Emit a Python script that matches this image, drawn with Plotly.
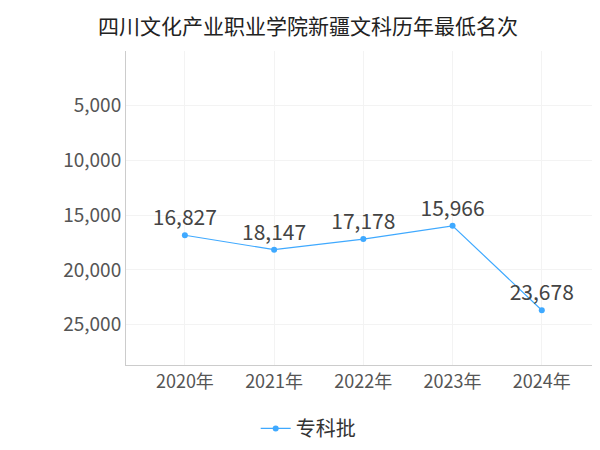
import plotly.graph_objects as go

years = ['2020年', '2021年', '2022年', '2023年', '2024年']
ranks = [16827, 18147, 17178, 15966, 23678]
labels = [f'{v:,}' for v in ranks]

fig = go.Figure()
fig.add_trace(go.Scatter(
    x=list(range(len(years))),
    y=ranks,
    mode='lines+markers+text',
    name='专科批',
    text=labels,
    textposition='top center',
    textfont=dict(size=21, color='#444'),
    line=dict(color='#3fa9ff', width=1.2),
    marker=dict(size=6, color='#3fa9ff'),
))

fig.update_layout(
    width=600, height=450,
    title=dict(text='四川文化产业职业学院新疆文科历年最低名次', x=0.5, y=0.975,
               font=dict(size=21, color='#222')),
    font=dict(family='Noto Sans CJK SC, Noto Sans, sans-serif'),
    plot_bgcolor='white', paper_bgcolor='white',
    margin=dict(l=118, r=10, t=43, b=80),
    showlegend=True,
    legend=dict(orientation='h', x=0.386, xanchor='center', y=-0.14, yanchor='top',
                font=dict(size=20, color='#333')),
    xaxis=dict(tickmode='array', tickvals=list(range(len(years))), ticktext=years,
               range=[-0.66, 4.63], showgrid=True, gridcolor='#f3f3f3',
               showline=True, linecolor='#ccc', ticks='', zeroline=False,
               automargin=False, tickfont=dict(size=18, color='#555')),
    yaxis=dict(range=[28680, 0], tickvals=[5000, 10000, 15000, 20000, 25000],
               tickformat=',', showgrid=True, gridcolor='#f3f3f3',
               showline=True, linecolor='#ccc', zeroline=False, ticklen=0,
               automargin=False, tickfont=dict(size=19, color='#555')),
)

fig.write_html('out.html')
